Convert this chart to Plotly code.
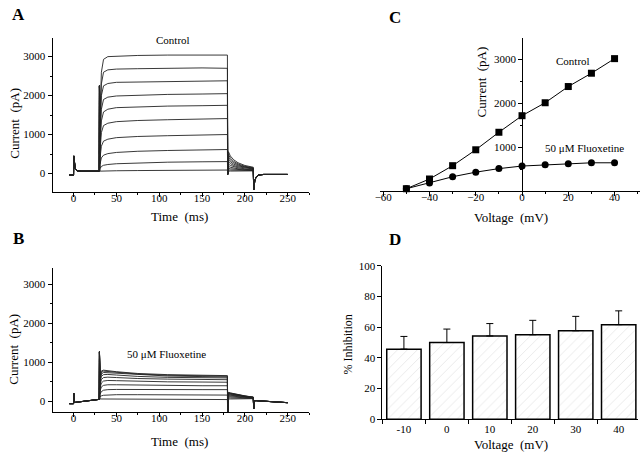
import plotly.graph_objects as go

W, H = 640, 456
FONT = "Liberation Serif, Times New Roman, serif"

# ---------------- Panel A / B : current traces (values in pA, times in ms) ----------------
step_mV = [-50, -40, -30, -20, -10, 0, 10, 20, 30, 40]

# shared holding segment before the step
pre_t = [-5, 0, 0.3, 1, 2, 4, 8, 30]
A_pre_i = [-40, -40, 450, 250, 120, 70, 60, 60]
B_pre_t = [-5, 0, 0.3, 1, 30]
B_pre_i = [-60, -60, 200, -30, 50]

# capacitive spike at step onset
spike_t = 30.25
A_spike_i = 2250
B_spike_i = 1270

# test pulse (per trace, ordered by step_mV)
pulse_t = [31, 32.5, 35, 40, 50, 75, 110, 150, 179.6]
A_pulse_i = [
    [60, 62, 64, 66, 70, 75, 80, 85, 88],
    [130, 180, 210, 230, 250, 270, 290, 300, 305],
    [250, 400, 470, 510, 540, 570, 590, 610, 615],
    [420, 700, 830, 880, 920, 950, 970, 990, 1000],
    [600, 1050, 1230, 1290, 1330, 1360, 1380, 1400, 1410],
    [750, 1350, 1580, 1650, 1690, 1710, 1730, 1740, 1750],
    [900, 1650, 1900, 1960, 1990, 2010, 2030, 2040, 2050],
    [1100, 2000, 2250, 2310, 2340, 2350, 2360, 2370, 2380],
    [1300, 2300, 2600, 2660, 2680, 2690, 2700, 2710, 2700],
    [1500, 2600, 2930, 3000, 3010, 3030, 3040, 3050, 3040],
]
B_pulse_i = [
    [60, 60, 60, 60, 55, 50, 45, 45, 45],
    [110, 140, 155, 165, 170, 170, 165, 160, 160],
    [190, 250, 285, 300, 305, 300, 300, 300, 300],
    [270, 370, 410, 425, 425, 415, 405, 400, 400],
    [350, 470, 520, 535, 530, 515, 500, 495, 490],
    [420, 560, 610, 620, 610, 585, 570, 560, 555],
    [480, 640, 685, 690, 675, 640, 615, 605, 600],
    [530, 700, 740, 735, 715, 680, 650, 635, 625],
    [570, 745, 775, 765, 740, 700, 670, 655, 645],
    [600, 780, 800, 785, 760, 715, 685, 670, 660],
]

# step-off transient and tail currents
off_t = 180.0
A_off_i = -20
B_off_i = -400
tail_t = [180.8, 183, 187, 192, 200, 209.8]
A_tail_i = [
    [60, 62, 64, 65, 66, 66],
    [90, 88, 85, 82, 78, 75],
    [130, 120, 110, 100, 90, 85],
    [180, 160, 140, 120, 105, 95],
    [240, 205, 170, 145, 120, 105],
    [300, 255, 205, 170, 140, 115],
    [360, 300, 240, 195, 155, 125],
    [420, 345, 275, 220, 170, 135],
    [490, 395, 310, 245, 185, 145],
    [560, 450, 350, 275, 205, 160],
]
B_tail_i = [
    [60, 60, 62, 64, 66, 68],
    [90, 88, 85, 82, 78, 75],
    [120, 115, 108, 100, 90, 82],
    [145, 138, 128, 116, 102, 88],
    [165, 157, 145, 130, 112, 94],
    [185, 175, 160, 142, 120, 98],
    [200, 189, 172, 152, 127, 101],
    [212, 200, 182, 160, 132, 104],
    [222, 209, 190, 166, 136, 106],
    [230, 216, 196, 171, 140, 108],
]

# return to holding
post_t = [210.3, 211.5, 213, 216, 222, 250]
A_post_i = [-420, -200, -90, -40, -25, -25]
B_post_t = [210.3, 211.5, 220, 235, 250]
B_post_i = [-190, 20, 5, -20, -35]

# ---------------- Panel C : I-V relation ----------------
iv_mV = [-50, -40, -30, -20, -10, 0, 10, 20, 30, 40]
iv_control = [52, 274, 578, 941, 1341, 1719, 2015, 2385, 2689, 3022]
iv_fluox = [52, 185, 326, 430, 511, 570, 600, 622, 644, 644]

# ---------------- Panel D : % inhibition ----------------
inh_mV = ["-10", "0", "10", "20", "30", "40"]
inh_mean = [45.7, 50.0, 54.3, 55.1, 57.7, 61.7]
inh_sem = [8.3, 8.8, 8.1, 9.4, 9.4, 9.0]

fig = go.Figure()
LINE = dict(color="#222222", width=0.9)

def add_traces(prt, pri, spk, pulses, offi, tails, pst, psi, xa, ya):
    for k in range(len(pulses)):
        x = list(prt) + [spike_t] + pulse_t + [off_t] + tail_t + list(pst)
        y = list(pri) + [spk] + pulses[k] + [offi] + tails[k] + list(psi)
        fig.add_trace(go.Scatter(x=x, y=y, mode="lines", line=LINE,
                                 xaxis=xa, yaxis=ya, hoverinfo="skip"))

add_traces(pre_t, A_pre_i, A_spike_i, A_pulse_i, A_off_i, A_tail_i, post_t, A_post_i, "x", "y")
add_traces(B_pre_t, B_pre_i, B_spike_i, B_pulse_i, B_off_i, B_tail_i, B_post_t, B_post_i, "x2", "y2")

fig.add_trace(go.Scatter(x=iv_mV, y=iv_control, mode="lines+markers",
                         line=dict(color="black", width=1),
                         marker=dict(symbol="square", size=7, color="black"),
                         cliponaxis=False, xaxis="x3", yaxis="y3"))
fig.add_trace(go.Scatter(x=iv_mV, y=iv_fluox, mode="lines+markers",
                         line=dict(color="black", width=1),
                         marker=dict(symbol="circle", size=7, color="black"),
                         cliponaxis=False, xaxis="x3", yaxis="y3"))

fig.add_trace(go.Bar(x=inh_mV, y=inh_mean, width=0.8,
                     marker=dict(color="white", line=dict(color="black", width=1.5),
                                 pattern=dict(shape="/", fgcolor="#cccccc", bgcolor="white",
                                              size=7, solidity=0.12)),
                     error_y=dict(type="data", symmetric=False, array=inh_sem,
                                  arrayminus=[0] * len(inh_sem), color="black",
                                  thickness=1, width=3.5),
                     xaxis="x4", yaxis="y4"))

tf = dict(family=FONT, size=11, color="black")
common = dict(showline=True, linecolor="black", linewidth=1, ticks="outside",
              ticklen=4, tickcolor="black", showgrid=False, zeroline=False, tickfont=tf)
xminor = dict(ticks="outside", ticklen=2, tickcolor="black")

def px(x):
    return x / W

def py(y):
    return 1 - y / H

fig.update_layout(
    width=W, height=H, margin=dict(l=0, r=0, t=0, b=0),
    paper_bgcolor="white", plot_bgcolor="white", showlegend=False,
    font=dict(family=FONT, color="black"),
    xaxis=dict(domain=[px(47), px(306)], range=[-24.5, 275], anchor="y",
               tickvals=[0, 50, 100, 150, 200, 250], ticklabelstandoff=-8,
               minor=dict(dtick=25, **xminor), **common),
    yaxis=dict(domain=[py(191), py(33)], range=[-475, 3475], anchor="x",
               tickvals=[0, 1000, 2000, 3000],
               minor=dict(dtick=500, **xminor), **common),
    xaxis2=dict(domain=[px(47), px(306)], range=[-24.5, 275], anchor="y2",
                tickvals=[0, 50, 100, 150, 200, 250], ticklabelstandoff=-8,
                minor=dict(dtick=25, **xminor), **common),
    yaxis2=dict(domain=[py(417), py(269)], range=[-275, 3425], anchor="x2",
                tickvals=[0, 1000, 2000, 3000],
                minor=dict(dtick=500, **xminor), **common),
    xaxis3=dict(domain=[px(378), 1.0], range=[-61.2, 51], anchor="y3",
                tickvals=[-60, -40, -20, 0, 20, 40], ticklabelstandoff=-8,
                minor=dict(dtick=10, **xminor), **common),
    yaxis3=dict(domain=[py(190), py(33)], range=[0, 3490], anchor="free",
                position=px(521), tickvals=[1000, 2000, 3000],
                minor=dict(dtick=500, **xminor), **common),
    xaxis4=dict(domain=[px(380), px(638)], range=[-0.5, 5.45], anchor="y4",
                type="category", tickson="boundaries", **common),
    yaxis4=dict(domain=[py(424.3), py(267)], range=[0, 100], anchor="x4",
                tickvals=[0, 20, 40, 60, 80, 100], **common),
)

def ann(text, x, y, size=12, angle=0, bold=False):
    if bold:
        text = "<b>" + text + "</b>"
    fig.add_annotation(text=text, x=px(x), y=py(y), xref="paper", yref="paper",
                       xanchor="center", yanchor="middle", showarrow=False,
                       textangle=angle, font=dict(family=FONT, size=size, color="black"))

# panel letters
ann("A", 13, 9, 17, bold=True)
ann("B", 13, 239, 17, bold=True)
ann("C", 393, 12, 17, bold=True)
ann("D", 393, 240, 17, bold=True)

# axis titles
ann("Current  (pA)", 9, 120, 13, angle=-90)
ann("Time  (ms)", 175, 216, 13)
ann("Current  (pA)", 8, 352, 13, angle=-90)
ann("Time  (ms)", 175, 447, 13)
ann("Current  (pA)", 480, 78, 13, angle=-90)
ann("Voltage  (mV)", 510, 217, 13)
ann("% Inhibition", 345, 348, 12, angle=-90)
ann("Voltage  (mV)", 510, 450, 13)

# in-plot labels
ann("Control", 169, 35, 11)
ann("50 μM Fluoxetine", 162, 357, 11)
ann("Control", 572, 56, 11)
ann("50 μM Fluoxetine", 584, 146, 11)

fig.write_html("out.html", config={"displayModeBar": False},
               post_script="document.body.style.margin='0';document.body.style.padding='0';")
